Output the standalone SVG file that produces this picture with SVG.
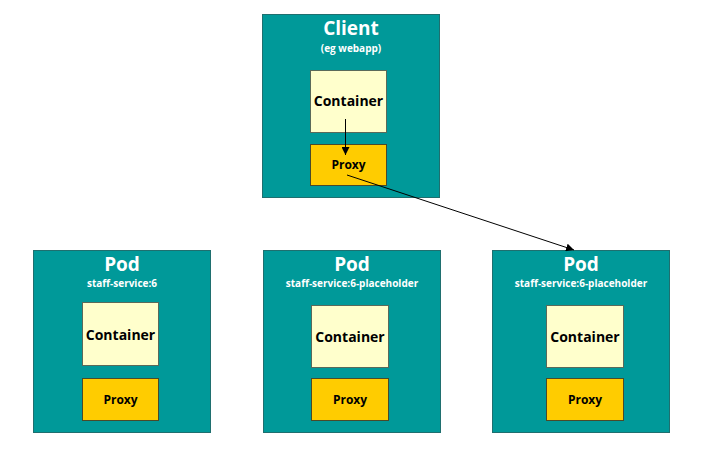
<svg xmlns="http://www.w3.org/2000/svg" width="725" height="453" viewBox="0 0 725 453">
<defs>
<style>
.box{fill:#009999;stroke:#1f6f6f;stroke-width:1}
.cont{fill:#ffffcc;stroke:#5a6a5a;stroke-width:1}
.proxy{fill:#ffcc00;stroke:#4a4a2a;stroke-width:1}
text{font-family:"Open Sans","Noto Sans","Liberation Sans",sans-serif;font-weight:bold;text-anchor:middle}
.title{fill:#ffffff;font-size:19px}
.sub{fill:#ffffff;font-size:10px}
.ct{fill:#000000;font-size:14px}
.pt{fill:#000000;font-size:12px}
.conn{stroke:#000000;stroke-width:1;fill:none}
</style>
<marker id="arr" viewBox="0 0 10 10" refX="10" refY="5" markerWidth="8" markerHeight="8" markerUnits="userSpaceOnUse" orient="auto">
<path d="M0,0 L10,5 L0,10 z" fill="#000000"/>
</marker>
</defs>
<rect width="725" height="453" fill="#ffffff"/>
<g id="client">
<rect class="box" x="262.5" y="14.5" width="177" height="183"/>
<text class="title" x="351" y="35">Client</text>
<text class="sub" x="351" y="52">(eg webapp)</text>
<g id="client-container">
<rect class="cont" x="310.5" y="70.5" width="76" height="62"/>
<text class="ct" x="348.5" y="106">Container</text>
</g>
<g id="client-proxy">
<rect class="proxy" x="310.5" y="144.5" width="76" height="41"/>
<text class="pt" x="348.5" y="169">Proxy</text>
</g>
</g>
<g id="pod1">
<rect class="box" x="33.5" y="250.5" width="177" height="182"/>
<text class="title" x="122" y="271">Pod</text>
<text class="sub" x="122" y="287">staff-service:6</text>
<g id="pod1-container">
<rect class="cont" x="82.5" y="302.5" width="76" height="63"/>
<text class="ct" x="120.5" y="340">Container</text>
</g>
<g id="pod1-proxy">
<rect class="proxy" x="82.5" y="378.5" width="76" height="42"/>
<text class="pt" x="120.5" y="404">Proxy</text>
</g>
</g>
<g id="pod2">
<rect class="box" x="263.5" y="250.5" width="177" height="182"/>
<text class="title" x="352" y="271">Pod</text>
<text class="sub" x="352" y="287">staff-service:6-placeholder</text>
<g id="pod2-container">
<rect class="cont" x="311.5" y="305.5" width="77" height="62"/>
<text class="ct" x="350" y="342">Container</text>
</g>
<g id="pod2-proxy">
<rect class="proxy" x="311.5" y="378.5" width="77" height="42"/>
<text class="pt" x="350" y="404">Proxy</text>
</g>
</g>
<g id="pod3">
<rect class="box" x="492.5" y="250.5" width="177" height="182"/>
<text class="title" x="581" y="271">Pod</text>
<text class="sub" x="581" y="287">staff-service:6-placeholder</text>
<g id="pod3-container">
<rect class="cont" x="546.5" y="305.5" width="77" height="62"/>
<text class="ct" x="585" y="342">Container</text>
</g>
<g id="pod3-proxy">
<rect class="proxy" x="546.5" y="378.5" width="77" height="42"/>
<text class="pt" x="585" y="404">Proxy</text>
</g>
</g>
<g id="connectors">
<line class="conn" x1="345.5" y1="119" x2="345.5" y2="155" marker-end="url(#arr)"/>
<line class="conn" x1="347" y1="175" x2="574" y2="250" marker-end="url(#arr)"/>
</g>
</svg>
